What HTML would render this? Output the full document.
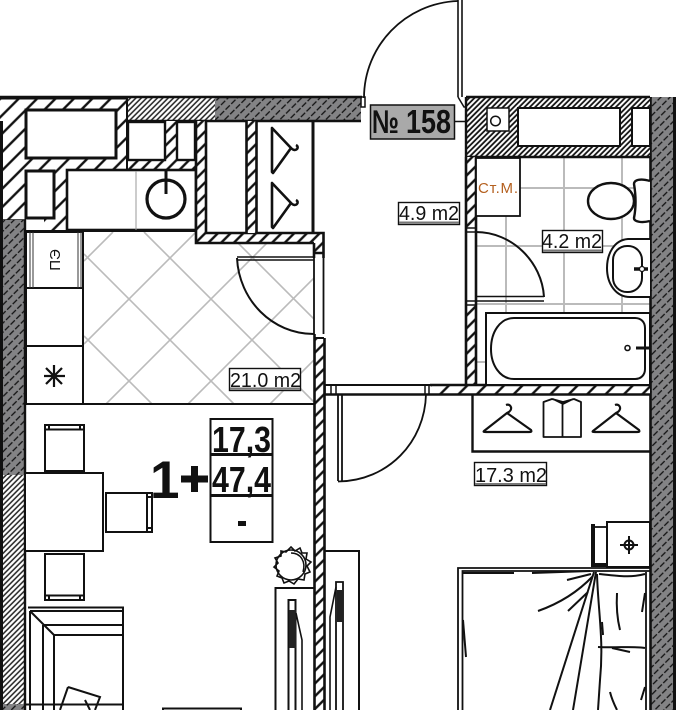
<!DOCTYPE html>
<html><head><meta charset="utf-8"><style>
html,body{margin:0;padding:0;background:#fff;width:676px;height:710px;overflow:hidden}
svg{display:block}
text{font-family:"Liberation Sans",sans-serif;fill:#111}
</style></head><body>
<svg width="676" height="710" viewBox="0 0 676 710" xmlns="http://www.w3.org/2000/svg">
<defs>
<pattern id="g" width="6.500" height="8" patternUnits="userSpaceOnUse" patternTransform="rotate(45)">
<rect width="6.500" height="8" fill="#838385"/><path d="M3 0V6" stroke="#111" stroke-width="1.300"/></pattern>
<pattern id="f" width="3.800" height="4" patternUnits="userSpaceOnUse" patternTransform="rotate(45)">
<rect width="3.800" height="4" fill="#fff"/><path d="M2 0V4" stroke="#222" stroke-width="1.500"/></pattern>
<pattern id="fd" width="3.800" height="4" patternUnits="userSpaceOnUse" patternTransform="rotate(45)">
<rect width="3.800" height="4" fill="#fff"/><path d="M2 0V4" stroke="#111" stroke-width="1.800"/></pattern>
<pattern id="w" width="9" height="9" patternUnits="userSpaceOnUse" patternTransform="rotate(45)">
<rect width="9" height="9" fill="#fff"/><path d="M4 0V9" stroke="#111" stroke-width="2.400"/></pattern>
<pattern id="w2" width="13" height="13" patternUnits="userSpaceOnUse" patternTransform="rotate(45)">
<rect width="13" height="13" fill="#fff"/><path d="M5 0V13" stroke="#111" stroke-width="2.400"/></pattern>
<clipPath id="ck"><polygon points="84,232 196,232 196,243 314,243 314,404 84,404"/></clipPath>
<clipPath id="cb"><rect x="477" y="158" width="173" height="154"/></clipPath>
</defs>
<rect width="676" height="710" fill="#fff"/>

<!-- tile grids -->
<g clip-path="url(#ck)" stroke="#bbb" stroke-width="1.600" fill="none">
<path d="M84 261L113 232M84 344L196 232M106 404L278 232M188 404L314 278M270 404L314 360"/>
<path d="M84 336L152 404M84 254L234 404M144 232L314 402M227 232L314 319"/>
</g>
<g clip-path="url(#cb)" stroke="#bbb" stroke-width="2" fill="none">
<path d="M506 158V312M564 158V312M622 158V312M477 188H650M477 246H650M477 304H650"/>
</g>
<path d="M476 362H486" stroke="#bbb" stroke-width="2"/>

<!-- top left wide hatch -->
<rect x="0" y="98" width="127" height="122" fill="url(#w2)"/>
<rect x="25" y="218" width="42" height="12" fill="url(#w2)"/>
<rect x="26" y="219" width="18" height="11" fill="#fff"/>
<rect x="0" y="97" width="215" height="2.500" fill="#111"/>
<rect x="127" y="98" width="88" height="23" fill="url(#f)"/>
<rect x="215" y="98" width="146" height="24" fill="url(#g)"/>
<path d="M0 97H362M127 121H361" stroke="#111" stroke-width="2.400" fill="none"/>
<path d="M127 98V121" stroke="#111" stroke-width="1"/>
<path d="M0 220H25" stroke="#111" stroke-width="1.500"/>

<!-- left wall -->
<rect x="3" y="220" width="22" height="255" fill="url(#g)"/>
<rect x="3" y="475" width="22" height="230" fill="url(#f)"/>
<rect x="3" y="704" width="22" height="6" fill="url(#g)"/>
<rect x="0" y="121" width="3" height="589" fill="#111"/>
<path d="M25 220V710" stroke="#111" stroke-width="2.400"/>

<!-- top left boxes -->
<rect x="26" y="110" width="90" height="48" fill="#fff" stroke="#111" stroke-width="3"/>
<rect x="26" y="171" width="28" height="47" fill="#fff" stroke="#111" stroke-width="3"/>

<!-- kitchen upper -->
<rect x="127" y="121" width="69" height="49" fill="url(#w)"/>
<rect x="128" y="122" width="37" height="38" fill="#fff" stroke="#111" stroke-width="2.400"/>
<rect x="177" y="122" width="18" height="38" fill="#fff" stroke="#111" stroke-width="2.400"/>
<path d="M127 97V170" stroke="#111" stroke-width="2"/>
<rect x="67" y="170" width="129" height="60" fill="#fff" stroke="#111" stroke-width="2.600"/>
<path d="M136 171V230" stroke="#999" stroke-width="1"/>
<circle cx="166" cy="199" r="19" fill="none" stroke="#111" stroke-width="3.200"/>
<path d="M166 171V194" stroke="#111" stroke-width="3"/>
<!-- hatch wall around closet -->
<rect x="196" y="121" width="10" height="122" fill="url(#w)"/>
<rect x="196" y="233" width="128" height="10" fill="url(#w)"/>
<rect x="314" y="233" width="10" height="20" fill="url(#w)"/>
<path d="M196 121V243H314M206 121V233H323.500V258M314 243V258M196 243V121M314 253H324" stroke="#111" stroke-width="2.600" fill="none"/>
<rect x="246" y="121" width="10" height="112" fill="url(#w)"/>
<path d="M246.500 121V233M256.500 121V233" stroke="#111" stroke-width="2.600"/>
<path d="M313 121V233" stroke="#111" stroke-width="3"/>
<g fill="none" stroke="#111" stroke-width="2.600" stroke-linejoin="round">
<path d="M272 128V172L273 173L291 148L272 128ZM291 148C296 153 300 147 296 145"/>
<path d="M272 183V227L273 228L291 203L272 183ZM291 203C296 208 300 202 296 200"/>
</g>

<!-- kitchen appliances -->
<path d="M25 231H196" stroke="#111" stroke-width="2"/>
<rect x="26" y="232" width="57" height="172" fill="#fff" stroke="#111" stroke-width="2"/>
<path d="M26 288H83M26 346H83" stroke="#111" stroke-width="2"/>
<path d="M30 232V288M33 232V288M78 232V288M81 232V288" stroke="#333" stroke-width="1"/>
<text transform="translate(60,260) rotate(-90)" text-anchor="middle" font-size="15">ПЭ</text>
<path d="M54 365V387M44 376H65M46 368L62 384M62 368L46 384" stroke="#111" stroke-width="2.200" fill="none"/>
<path d="M25 404H314" stroke="#111" stroke-width="2"/>

<!-- kitchen door -->
<path d="M314 258V334M323.500 258V334" stroke="#111" stroke-width="1.800"/>
<path d="M237 257H314M237 260H314" stroke="#111" stroke-width="1.500"/>
<path d="M237 258C239 300 272 334 314 334" fill="none" stroke="#111" stroke-width="2"/>
<rect x="314" y="338" width="10" height="372" fill="url(#w)"/>
<path d="M314.500 334V710M324.500 338V710" stroke="#111" stroke-width="2.600"/>
<path d="M314 338H324" stroke="#111" stroke-width="2"/>

<!-- right wall -->
<rect x="650" y="97" width="23" height="613" fill="url(#g)"/>
<rect x="673" y="97" width="3" height="613" fill="#111"/>
<path d="M650.500 97V710" stroke="#111" stroke-width="2.600"/>

<!-- bathroom top -->
<rect x="466" y="98" width="184" height="59" fill="url(#fd)"/>
<path d="M466 97H650M466 157H650M466 97V157" stroke="#111" stroke-width="2.400" fill="none"/>
<rect x="487" y="108" width="22" height="23" fill="#fff" stroke="#111" stroke-width="1.500"/>
<circle cx="495.500" cy="121" r="4.800" fill="none" stroke="#111" stroke-width="1.500"/>
<rect x="518" y="108" width="102" height="38" fill="#fff" stroke="#111" stroke-width="2"/>
<rect x="632" y="108" width="18" height="38" fill="#fff" stroke="#111" stroke-width="2"/>

<!-- bathroom walls -->
<rect x="466" y="157" width="10" height="71" fill="url(#w)"/>
<rect x="466" y="305" width="10" height="80" fill="url(#w)"/>
<path d="M466 157V385M476 157V385" stroke="#111" stroke-width="2.600"/>
<path d="M466 228H476M466 232H476M466 301H476M466 305H476" stroke="#111" stroke-width="1.500"/>
<rect x="431" y="386" width="219" height="8" fill="url(#w2)"/>
<path d="M430 385H650M325 394.500H650" stroke="#111" stroke-width="2.400"/>
<path d="M325 385H430" stroke="#111" stroke-width="2"/>
<path d="M429 385V394M325 384V394M331 385V394M336 385V394M425 385V394" stroke="#111" stroke-width="1.500"/>

<!-- Ст.М. -->
<rect x="476" y="158" width="44" height="58" fill="#fff" stroke="#111" stroke-width="1.800"/>
<text x="478" y="193" font-size="15" textLength="40" style="fill:#b4601f">Ст.М.</text>

<!-- bath door -->
<path d="M476 296.500H544M476 301H544" stroke="#111" stroke-width="1.500"/>
<path d="M476 232C512 232 542 262 544 297" fill="none" stroke="#111" stroke-width="2"/>

<!-- toilet -->
<ellipse cx="611" cy="201" rx="23" ry="18" fill="#fff" stroke="#111" stroke-width="2.400"/>
<path d="M650 181C640 178 634 180 634 184C636 196 636 208 634 218C634 222 642 223 650 221" fill="#fff" stroke="#111" stroke-width="2.400"/>

<!-- sink -->
<path d="M650 239H628C614 240 607 254 607 268C607 284 616 297 630 297H650" fill="#fff" stroke="#111" stroke-width="2"/>
<rect x="613" y="246" width="29" height="46" rx="14" fill="#fff" stroke="#111" stroke-width="2"/>
<path d="M634 269H648" stroke="#111" stroke-width="3.500"/>
<circle cx="642" cy="269" r="2.500" fill="#fff" stroke="#111" stroke-width="1.200"/>

<!-- bath -->
<rect x="486" y="313" width="164" height="72" fill="#fff" stroke="#111" stroke-width="2"/>
<path d="M514 318H635C641 318 645 322 645 328V369C645 375 641 379 635 379H514C500 379 491 365 491 349C491 332 500 318 514 318Z" fill="#fff" stroke="#111" stroke-width="2"/>
<circle cx="627.500" cy="348" r="2.500" fill="#fff" stroke="#111" stroke-width="1.600"/>
<path d="M636 348H650" stroke="#111" stroke-width="3"/>

<!-- entry door -->
<path d="M458 0V97M462 0V97" stroke="#111" stroke-width="1.600"/>
<path d="M458 1C405 3 364 46 364 98" fill="none" stroke="#111" stroke-width="1.800"/>
<path d="M361 97H365V107H361ZM458 97L464 107H466" fill="none" stroke="#111" stroke-width="1.500"/>
<path d="M454 121.500H466" stroke="#111" stroke-width="1.500"/>
<rect x="370.500" y="105" width="84" height="34" fill="#a9a9a9" stroke="#111" stroke-width="1.500"/>
<text x="372" y="133" font-size="33" font-weight="bold" textLength="27" lengthAdjust="spacingAndGlyphs">№</text>
<text x="406" y="133" font-size="33" font-weight="bold" textLength="45" lengthAdjust="spacingAndGlyphs">158</text>

<!-- area labels -->
<g fill="#fff" stroke="#111" stroke-width="1.400">
<rect x="398.500" y="202.500" width="61" height="22"/>
<rect x="542.500" y="230.500" width="60" height="22"/>
<rect x="229.500" y="368.500" width="71" height="22"/>
<rect x="474.500" y="462.500" width="72" height="23"/>
</g>
<g stroke="#777" stroke-width="2"><path d="M399 222.500H459M543 250.500H602M230 388.500H300M475 484H546"/></g>
<g font-size="20.500">
<text x="399" y="220" textLength="60" lengthAdjust="spacingAndGlyphs">4.9 m2</text>
<text x="542" y="248" textLength="60" lengthAdjust="spacingAndGlyphs">4.2 m2</text>
<text x="230" y="387" textLength="71" lengthAdjust="spacingAndGlyphs">21.0 m2</text>
<text x="475" y="482" textLength="72" lengthAdjust="spacingAndGlyphs">17.3 m2</text>
</g>

<!-- info table -->
<rect x="210.500" y="419" width="62" height="123" fill="#fff" stroke="#111" stroke-width="2"/>
<path d="M210 454.500H273M210 495.500H273" stroke="#111" stroke-width="3"/>
<text x="212" y="452" font-size="36" font-weight="bold" textLength="59" lengthAdjust="spacingAndGlyphs">17,3</text>
<text x="212" y="492" font-size="36" font-weight="bold" textLength="59" lengthAdjust="spacingAndGlyphs">47,4</text>
<rect x="238" y="521" width="8" height="5" fill="#111"/>
<text x="150" y="498" font-size="53" font-weight="bold">1</text>
<path d="M181 479H208M194.500 466V492" stroke="#111" stroke-width="7"/>

<!-- table and chairs -->
<g fill="#fff" stroke="#111" stroke-width="2">
<rect x="45" y="425" width="39" height="46"/>
<path d="M45 429.500H84M49 425V430M80 425V430" fill="none"/>
<rect x="25" y="473" width="78" height="78"/>
<rect x="45" y="554" width="39" height="46"/>
<path d="M45 595.500H84M49 595V600M80 595V600" fill="none"/>
<rect x="106" y="493" width="46" height="39"/>
<path d="M147 493V532M147 497H152M147 528H152" fill="none"/>
</g>

<!-- plant -->
<circle cx="291" cy="565" r="15" fill="#fff" stroke="#111" stroke-width="1.600"/>
<path d="M291 547L295 551L300 548L302 553L307 553L306 559L311 562L307 566L310 572L305 574L304 580L298 579L294 584L289 581L284 583L282 578L277 576L279 571L274 567L278 563L275 558L281 556L281 551L286 552Z" fill="none" stroke="#111" stroke-width="1.600"/>
<path d="M291 553C301 553 306 562 303 572" fill="none" stroke="#111" stroke-width="1.500"/>

<!-- wardrobe left of wall -->
<path d="M275.500 710V588H314" fill="none" stroke="#111" stroke-width="2"/>
<path d="M288.500 710V600H295.500V710" fill="none" stroke="#111" stroke-width="2"/>
<rect x="289" y="610" width="7" height="38" fill="#222"/>
<path d="M296 613L302 640V710" fill="none" stroke="#111" stroke-width="1.600"/>

<!-- wardrobe right of wall -->
<path d="M325 551H359V710" fill="none" stroke="#111" stroke-width="2"/>
<path d="M336 710V582H343V710" fill="none" stroke="#111" stroke-width="1.800"/>
<rect x="337" y="590" width="6" height="32" fill="#222"/>
<path d="M336 587L330 617V710" fill="none" stroke="#111" stroke-width="1.600"/>

<!-- sofa -->
<g fill="none" stroke="#111" stroke-width="2">
<path d="M28 607.500H123V710"/>
<path d="M30 611H123M30 611V710M30 611L54 635M43 625H123M43 625V710M54 635H123M54 635V710"/>
<path d="M25 704.500H123"/>
<path d="M68 687L100 697L95 710M68 687L60 710M85 700L90 710"/>
</g>
<path d="M163 710V708.500H241V710" fill="none" stroke="#111" stroke-width="2"/>

<!-- door to bedroom -->
<path d="M338 394V481M342 394V481" stroke="#111" stroke-width="1.800"/>
<path d="M338 481.500C388 481 425 442 426 394" fill="none" stroke="#111" stroke-width="1.800"/>

<!-- bedroom wardrobe -->
<path d="M472.500 395V451.500H650" fill="none" stroke="#111" stroke-width="2.400"/>
<g fill="none" stroke="#111" stroke-width="2.200" stroke-linejoin="round">
<path d="M484 431L507 413L531 430C532 432 531 432 529 432H486C484 432 483 432 484 431Z"/>
<path d="M507 413C514 410 511 403 506 405"/>
<path d="M593 431L616 413L639 430C640 432 639 432 637 432H595C593 432 592 432 593 431Z"/>
<path d="M616 413C623 410 620 403 615 405"/>
<path d="M543.500 437V402L552 399L563 402L574 399L581 402V437ZM562.500 402V437M553 399L563 404L573 399" stroke-width="1.800"/>
</g>

<!-- nightstand -->
<rect x="607" y="522" width="43" height="45" fill="#fff" stroke="#111" stroke-width="2"/>
<circle cx="629" cy="545" r="4.500" fill="none" stroke="#111" stroke-width="2"/>
<path d="M629 536V554M620 545H638" stroke="#111" stroke-width="2"/>
<path d="M593 524V567" stroke="#111" stroke-width="4"/>
<path d="M595 527H607" stroke="#111" stroke-width="1.800"/>
<path d="M595 565H607" stroke="#111" stroke-width="4"/>

<!-- bed -->
<path d="M458 710V568H650M462.500 710V571H650M646 572V710" fill="none" stroke="#111" stroke-width="1.800"/>
<g fill="none" stroke="#111" stroke-width="2">
<path d="M596 572L573 710"/><path d="M597 574C598 610 604 640 600 680L598 710"/>
<path d="M594 572L550 710"/>
<path d="M593 576C575 595 555 605 538 611M591 574L567 580M588 592L568 611"/>
<path d="M463 573H514M532 573L590 571"/>
<path d="M463 620L466 657"/><path d="M617 593C616 610 618 622 620 630M602 622L603 635"/>
<path d="M598 647C615 648 635 646 645 648M612 648L630 652"/>
<path d="M645 593L642 612M645 687L641 700M610 692C612 700 615 706 617 710"/>
<path d="M599 574C620 576 630 578 645 574"/>
</g>
</svg>
</body></html>
